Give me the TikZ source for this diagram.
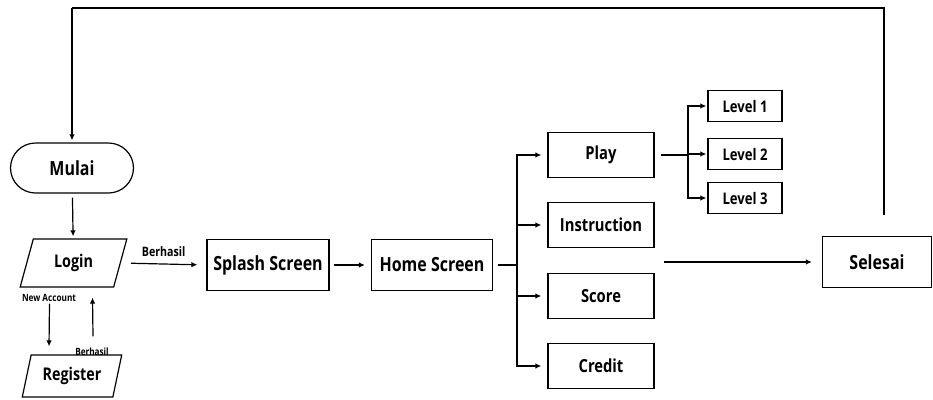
\documentclass[tikz,border=0pt]{standalone}
\usepackage{fontspec}
\usepackage{tikz}
\usetikzlibrary{arrows.meta,shapes.geometric}
\newfontfamily\flowfont{Open Sans}[FakeStretch=0.82]

\tikzset{
  box/.style={draw, line width=1.2pt, inner sep=0pt, align=center,
    font=\flowfont\bfseries\fontsize{17.5}{20}\selectfont},
  bigbox/.style={box, minimum width=122pt, minimum height=51pt,
    font=\flowfont\bfseries\fontsize{19.5}{22}\selectfont},
  menubox/.style={box, minimum width=106pt, minimum height=45pt,
    font=\flowfont\bfseries\fontsize{18}{20}\selectfont},
  lvlbox/.style={box, minimum width=74pt, minimum height=31pt,
    font=\flowfont\bfseries\fontsize{16}{18}\selectfont},
  iobox/.style={box, trapezium, trapezium left angle=70, trapezium right angle=110,
    trapezium stretches=true},
  arr/.style={-{Latex[length=6pt,width=5.5pt]}, line width=1.2pt},
  lbl/.style={font=\flowfont\bfseries\fontsize{13}{15}\selectfont},
  tinylbl/.style={font=\flowfont\bfseries\fontsize{10}{12}\selectfont},
}

\begin{document}
\begin{tikzpicture}[x=1pt, y=-1pt]
  \useasboundingbox (0,0) rectangle (933,399);

  % Bagian kiri: mulai, login, register
  \node[box, minimum width=123pt, minimum height=50pt, rounded corners=25pt,
    font=\flowfont\bfseries\fontsize{19.5}{22}\selectfont] (mulai) at (72,168) {Mulai};
  \node[iobox, minimum width=107pt, minimum height=48pt] (login) at (73.5,263) {Login};
  \node[iobox, minimum width=100pt, minimum height=42pt] (register) at (72,376) {Register};

  % Layar utama
  \node[bigbox] (splash) at (268,265) {Splash Screen};
  \node[bigbox, minimum width=121pt] (home) at (432,265) {Home Screen};

  % Menu
  \node[menubox] (play)   at (601,155) {Play};
  \node[menubox] (instr)  at (601,225) {Instruction};
  \node[menubox] (score)  at (601,296) {Score};
  \node[menubox] (credit) at (601,366) {Credit};

  % Level
  \node[lvlbox] (lvla) at (745,106) {Level 1};
  \node[lvlbox] (lvlb) at (745,154) {Level 2};
  \node[lvlbox] (lvlc) at (745,198) {Level 3};

  \node[bigbox, minimum width=109pt] (selesai) at (877,262) {Selesai};

  % Titik bantu
  \coordinate (menuhub) at (517,265);
  \coordinate (lvlhub) at (688,155);
  \coordinate (exitpt) at (664,262);
  \coordinate (loopend) at (884,215);
  \coordinate (looptop) at (72,8);

  % Alur kiri
  \draw[arr, shorten <=4pt, shorten >=2pt] (mulai) -- (login);
  \draw[arr, shorten <=10pt, shorten >=9pt] (login.east) -- node[lbl, above=3pt] {Berhasil} (splash.west);
  \draw[arr] ([xshift=-24pt,yshift=-16pt]login.south) -- ([xshift=-23pt,yshift=8pt]register.north);
  \draw[arr] ([xshift=21pt,yshift=18pt]register.north) -- ([xshift=19pt,yshift=-10pt]login.south);
  \node[tinylbl] (newacc) at (49,298) {New Account};
  \node[tinylbl] (regok) at (92,352) {Berhasil};

  % Alur tengah
  \draw[arr, shorten <=4pt, shorten >=6pt] (splash) -- (home);
  \draw[line width=1.2pt, shorten <=5pt] (home.east) -- (menuhub);
  \foreach \m in {play,instr,score,credit}
    \draw[arr, shorten >=6pt] (menuhub) |- (\m.west);
  \draw[line width=1.8pt, shorten <=6pt] (play.east) -- (lvlhub);
  \foreach \l in {lvla,lvlb,lvlc}
    \draw[arr, shorten >=1pt] (lvlhub) |- (\l.west);

  % Ke selesai dan kembali ke mulai
  \draw[arr, shorten >=10pt] (exitpt) -- (selesai.west);
  \draw[line width=1.4pt] (loopend) |- (looptop);
  \draw[arr, line width=1.4pt, shorten >=2pt] (looptop) -- (mulai.north);
\end{tikzpicture}
\end{document}
